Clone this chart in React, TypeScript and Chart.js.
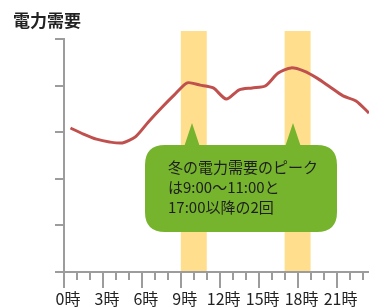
import React, { useEffect, useRef } from "react";
import { Chart, registerables } from "chart.js";

Chart.register(...registerables);

const title = "電力需要";
const hours = [0.5, 1.5, 2.5, 3.5, 4.5, 5.5, 6.5, 7.5, 8.5, 9.5, 10.5, 11.5, 12.5, 13.5, 14.5, 15.5, 16.5, 17.5, 18.5, 19.5, 20.5, 21.5, 22.5, 23.5];
const demand = [3.09, 2.96, 2.85, 2.79, 2.77, 2.9, 3.22, 3.52, 3.8, 4.06, 4.01, 3.95, 3.71, 3.91, 3.95, 3.99, 4.27, 4.38, 4.31, 4.16, 3.97, 3.78, 3.67, 3.41];
const peakBands = [
  [9, 11],
  [17, 19],
];
const calloutLines = ["冬の電力需要のピーク", "は9:00～11:00と", "17:00以降の2回"];
const tickSuffix = "時";

const FONT = '"Noto Sans CJK JP", "Noto Sans", sans-serif';
const AXIS = "#9c9c9c";
const GREEN = "#76b42e";

const decorPlugin = {
  id: "decor",
  beforeDraw(chart: any) {
    const { ctx, chartArea } = chart;
    const x = chart.scales.x;
    ctx.save();
    ctx.fillStyle = "#ffdf8e";
    for (const [a, b] of peakBands) {
      const x1 = x.getPixelForValue(a);
      const x2 = x.getPixelForValue(b);
      ctx.fillRect(x1, chartArea.top - 8, x2 - x1, chartArea.bottom - 1 - (chartArea.top - 8));
    }
    ctx.fillStyle = "#222";
    ctx.font = `bold 17px ${FONT}`;
    ctx.textBaseline = "middle";
    ctx.textAlign = "left";
    ctx.fillText(title, 13, 21);
    ctx.restore();
  },
  afterDraw(chart: any) {
    const { ctx } = chart;
    ctx.save();
    ctx.fillStyle = GREEN;
    const l = 145, t = 145, r = 337, b = 232, rad = 20;
    ctx.beginPath();
    ctx.moveTo(l + rad, t);
    ctx.lineTo(r - rad, t);
    ctx.quadraticCurveTo(r, t, r, t + rad);
    ctx.lineTo(r, b - rad);
    ctx.quadraticCurveTo(r, b, r - rad, b);
    ctx.lineTo(l + rad, b);
    ctx.quadraticCurveTo(l, b, l, b - rad);
    ctx.lineTo(l, t + rad);
    ctx.quadraticCurveTo(l, t, l + rad, t);
    ctx.closePath();
    ctx.fill();
    for (const tip of [192, 293]) {
      ctx.beginPath();
      ctx.moveTo(tip - 8, t + 2);
      ctx.lineTo(tip, 123);
      ctx.lineTo(tip + 8, t + 2);
      ctx.closePath();
      ctx.fill();
    }
    ctx.fillStyle = "#1e1e1e";
    ctx.font = `15px ${FONT}`;
    ctx.textBaseline = "middle";
    ctx.textAlign = "left";
    calloutLines.forEach((s, i) => ctx.fillText(s, 168, 167 + i * 20));
    ctx.restore();
  },
};

export default function App() {
  const ref = useRef<HTMLCanvasElement>(null);
  useEffect(() => {
    if (!ref.current) return;
    const chart = new Chart(ref.current, {
      type: "line",
      data: {
        datasets: [
          {
            data: hours.map((h, i) => ({ x: h, y: demand[i] })),
            borderColor: "#c0504d",
            borderWidth: 3,
            pointRadius: 0,
            tension: 0.25,
            xAxisID: "x",
            yAxisID: "y",
          },
        ],
      },
      options: {
        animation: false,
        responsive: false,
        layout: { padding: { left: 55, top: 39, right: 0, bottom: 0 } },
        plugins: { legend: { display: false }, tooltip: { enabled: false }, title: { display: false } },
        scales: {
          x: {
            type: "linear",
            position: "bottom",
            weight: 0,
            min: 0,
            max: 23.5,
            afterFit: (s: any) => { s.height = 0; },
            ticks: { stepSize: 1, includeBounds: false, display: false },
            grid: { drawOnChartArea: false, tickLength: 8, color: AXIS, lineWidth: 2 },
            border: { color: AXIS, width: 2 },
          },
          x2: {
            type: "linear",
            position: "bottom",
            weight: 1,
            min: 0,
            max: 23.5,
            afterFit: (s: any) => { s.height = 35; },
            ticks: {
              stepSize: 3,
              includeBounds: false,
              padding: 1,
              labelOffset: 4,
              maxRotation: 0,
              autoSkip: false,
              color: "#222",
              font: { family: FONT, size: 16 },
              callback: (v: any) => `${v}${tickSuffix}`,
            },
            grid: { drawOnChartArea: false, tickLength: 16, color: AXIS, lineWidth: 2 },
            border: { display: false },
          },
          y: {
            min: 0,
            max: 5,
            afterFit: (s: any) => { s.width = 9; },
            ticks: { stepSize: 1, display: false },
            grid: { drawOnChartArea: false, tickLength: 9, color: AXIS, lineWidth: 2 },
            border: { color: AXIS, width: 2 },
          },
        },
      },
      plugins: [decorPlugin],
    });
    return () => chart.destroy();
  }, []);
  return (
    <div style={{ position: "absolute", left: 0, top: 0, width: 369, height: 307 }}>
      <canvas ref={ref} width={369} height={307} />
    </div>
  );
}
